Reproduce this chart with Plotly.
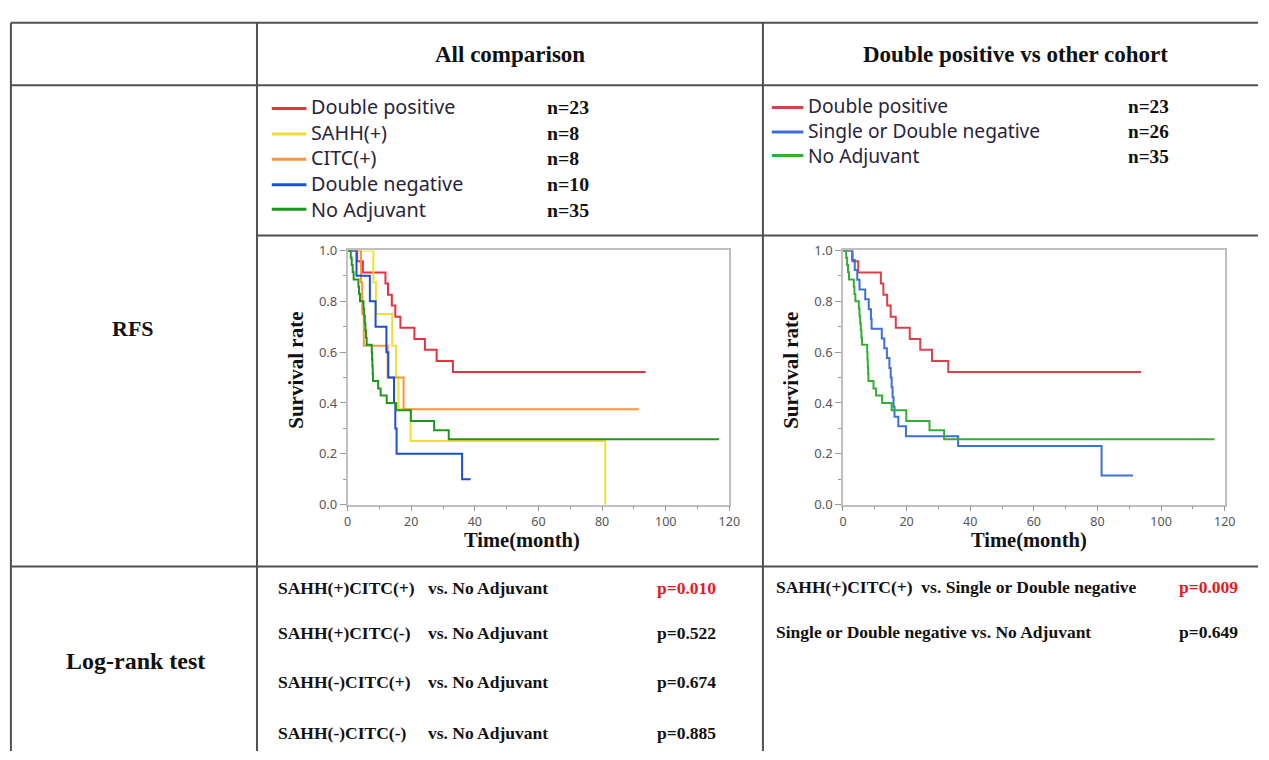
import plotly.graph_objects as go

W, H = 1269, 760

# ---------------- data ----------------
red_t = [0, 3.0, 4.8, 11.9, 12.7, 13.9, 15.0, 16.6, 21.0, 24.3, 28.0, 33.1, 93.7]
red_s = [1, 0.957, 0.913, 0.870, 0.826, 0.783, 0.739, 0.696, 0.652, 0.609, 0.565, 0.522, 0.522]

yel_t = [0, 8.1, 8.9, 14.0, 15.2, 16.0, 19.8, 81.0]
yel_s = [1, 0.875, 0.75, 0.625, 0.5, 0.375, 0.25, 0.0]

ora_t = [0, 4.2, 4.6, 5.1, 12.6, 17.6, 91.5]
ora_s = [1, 0.875, 0.75, 0.625, 0.5, 0.375, 0.375]

dneg_t = [0, 2.8, 7.0, 8.8, 12.2, 12.8, 14.6, 15.0, 15.4, 36.0, 38.7]
dneg_s = [1, 0.9, 0.8, 0.7, 0.6, 0.5, 0.4, 0.3, 0.2, 0.1, 0.1]

noadj_t = [0, 1.0, 1.3, 1.6, 1.9, 3.4, 3.6, 3.9, 5.0, 5.2, 5.4, 5.6, 5.8, 6.0,
           7.6, 7.7, 7.8, 7.9, 8.0, 9.6, 10.4, 12.3, 15.3, 19.9, 27.2, 31.8, 116.8]
noadj_s = [1, 0.971, 0.943, 0.914, 0.886, 0.857, 0.829, 0.800, 0.771, 0.743, 0.714, 0.686,
           0.657, 0.629, 0.600, 0.571, 0.543, 0.514, 0.486, 0.457, 0.429, 0.400, 0.371,
           0.329, 0.293, 0.257, 0.257]

sneg_t = [0, 2.9, 3.7, 4.5, 5.2, 7.0, 8.1, 8.8, 9.0, 12.2, 13.0, 13.8, 14.6, 15.0,
          15.3, 15.6, 15.9, 16.2, 17.4, 19.8, 36.2, 81.3, 91.2]
sneg_s = [1, 0.962, 0.923, 0.885, 0.846, 0.808, 0.769, 0.731, 0.692, 0.654, 0.615, 0.577,
          0.538, 0.500, 0.462, 0.423, 0.385, 0.346, 0.308, 0.269, 0.231, 0.115, 0.115]

left_names = ["Double positive", "SAHH(+)", "CITC(+)", "Double negative", "No Adjuvant"]
left_n = ["n=23", "n=8", "n=8", "n=10", "n=35"]
left_colors = ["#e5323f", "#f0e030", "#f7963a", "#1d4fd1", "#1f971f"]

right_names = ["Double positive", "Single or Double negative", "No Adjuvant"]
right_n = ["n=23", "n=26", "n=35"]
right_colors = ["#d8404a", "#3c6fdc", "#36ad36"]

left_tests = ["SAHH(+)CITC(+)", "SAHH(+)CITC(-)", "SAHH(-)CITC(+)", "SAHH(-)CITC(-)"]
left_p = ["p=0.010", "p=0.522", "p=0.674", "p=0.885"]
right_tests = ["SAHH(+)CITC(+)  vs. Single or Double negative",
               "Single or Double negative vs. No Adjuvant"]
right_p = ["p=0.009", "p=0.649"]

x_ticks = [0, 20, 40, 60, 80, 100, 120]
y_ticks = [0.0, 0.2, 0.4, 0.6, 0.8, 1.0]


def px(x):
    return x / W


def py(y):
    return 1 - y / H


SERIF = "Liberation Serif"
SANS = "Noto Sans"

fig = go.Figure()

left_series = [(red_t, red_s), (yel_t, yel_s), (ora_t, ora_s), (dneg_t, dneg_s), (noadj_t, noadj_s)]
for (t, s), name, c in zip(left_series, left_names, left_colors):
    fig.add_trace(go.Scatter(x=t, y=s, mode="lines", line=dict(color=c, width=2, shape="hv"),
                             name=name, xaxis="x", yaxis="y", showlegend=False))

right_series = [(red_t, red_s), (sneg_t, sneg_s), (noadj_t, noadj_s)]
for (t, s), name, c in zip(right_series, right_names, right_colors):
    fig.add_trace(go.Scatter(x=t, y=s, mode="lines", line=dict(color=c, width=2, shape="hv"),
                             name=name, xaxis="x2", yaxis="y2", showlegend=False))

ydom = [py(507.7), py(247.3)]


def xax(dom, anchor):
    return dict(domain=dom, range=[0, 120], tickvals=x_ticks, ticks="outside", ticklen=5,
                tickcolor="#9a9a9a", showline=True, linecolor="#c0c0c0", linewidth=1.5,
                mirror=True, showgrid=False, zeroline=False, anchor=anchor,
                tickfont=dict(family=SANS, size=12.5, color="#555"),
                minor=dict(ticks="outside", ticklen=3, dtick=10, tickcolor="#9a9a9a"))


def yax(anchor):
    return dict(domain=ydom, range=[0, 1], tickvals=y_ticks, tickformat=".1f", ticks="outside",
                ticklen=6, tickcolor="#9a9a9a", showline=True, linecolor="#c0c0c0", linewidth=1.5,
                mirror=True, showgrid=False, zeroline=False, anchor=anchor,
                tickfont=dict(family=SANS, size=13, color="#555"),
                minor=dict(ticks="outside", ticklen=3, dtick=0.1, tickcolor="#9a9a9a"))


fig.update_layout(
    width=W, height=H, margin=dict(l=0, r=0, t=0, b=0),
    paper_bgcolor="white", plot_bgcolor="white", showlegend=False,
    xaxis=xax([px(347.7), px(734)], "y"),
    yaxis=yax("x"),
    xaxis2=xax([px(849), px(1235.3)], "y2"),
    yaxis2=yax("x2"),
)

# ---------------- table grid ----------------
LC = "#505050"
shapes = [
    dict(x0=px(7), x1=1, y0=py(14), y1=py(14)),
    dict(x0=px(7), x1=1, y0=py(78), y1=py(78)),
    dict(x0=px(256), x1=1, y0=py(232), y1=py(232)),
    dict(x0=px(7), x1=1, y0=py(571), y1=py(571)),
    dict(x0=px(7), x1=px(7), y0=py(14), y1=0),
    dict(x0=px(256), x1=px(256), y0=py(14), y1=0),
    dict(x0=px(768), x1=px(768), y0=py(14), y1=0),
]
for s in shapes:
    fig.add_shape(type="line", xref="paper", yref="paper", line=dict(color=LC, width=2), **s)

ann = []


def text(x, y, t, size, family=SERIF, color="#111", xanchor="center", bold=True, angle=0,
         yanchor="middle"):
    ann.append(dict(x=px(x), y=py(y), xref="paper", yref="paper", text=(f"<b>{t}</b>" if bold else t),
                    showarrow=False, xanchor=xanchor, yanchor=yanchor, textangle=angle, align="left",
                    font=dict(family=family, size=size, color=color)))


# headers
text(512, 47, "All comparison", 23)
text(1024, 47, "Double positive vs other cohort", 23)
text(131, 327, "RFS", 22)
text(133, 668, "Log-rank test", 24)

# legends (left): key lines as shapes, names and counts as multi-line text blocks
left_rows = [101, 127, 153, 179, 204]
for yy, c in zip(left_rows, left_colors):
    fig.add_shape(type="line", xref="paper", yref="paper", x0=px(271), x1=px(306),
                  y0=py(yy + 1), y1=py(yy + 1), line=dict(color=c, width=3))
text(309, (left_rows[0] + left_rows[-1]) / 2, "<br>".join(left_names), 19.8, family=SANS,
     color="#2a2438", xanchor="left", bold=False)
text(547, (left_rows[0] + left_rows[-1]) / 2 + 1, "<br>".join(f"<b>{n}</b>" for n in left_n), 19.8,
     xanchor="left", bold=False)

right_rows = [100, 125, 149]
for yy, c in zip(right_rows, right_colors):
    fig.add_shape(type="line", xref="paper", yref="paper", x0=px(777), x1=px(809),
                  y0=py(yy + 1), y1=py(yy + 1), line=dict(color=c, width=3))
text(812, (right_rows[0] + right_rows[-1]) / 2, "<br>".join(right_names), 19.2, family=SANS,
     color="#2a2438", xanchor="left", bold=False)
text(1135, (right_rows[0] + right_rows[-1]) / 2 + 1, "<br>".join(f"<b>{n}</b>" for n in right_n),
     19.2, xanchor="left", bold=False)

# axis titles
for cx, cy in [(524, 544), (1037, 544)]:
    text(cx, cy, "Time(month)", 20.5)
for cx in [296, 797]:
    text(cx, 370, "Survival rate", 21, angle=-90)

# log-rank rows
left_y = [593, 639, 689, 742]
for yy, lab, p in zip(left_y, left_tests, left_p):
    text(275, yy, lab, 17.5, xanchor="left")
    text(427, yy, "vs. No Adjuvant", 17.5, xanchor="left")
    text(723, yy, p, 17.5, xanchor="right", color="#e8191e" if p == "p=0.010" else "#111")

right_y = [592, 638]
for yy, lab, p in zip(right_y, right_tests, right_p):
    text(779, yy, lab, 17.5, xanchor="left")
    text(1251, yy, p, 17.5, xanchor="right", color="#e8191e" if p == "p=0.009" else "#111")

fig.update_layout(annotations=ann)
post = ("document.documentElement.style.margin='0px';"
        "document.documentElement.style.overflow='hidden';"
        "document.body.style.margin='0px';document.body.style.overflow='hidden';"
        "var d=document.getElementById('{plot_id}');"
        "d.style.position='fixed';d.style.left='0px';d.style.top='0px';")
fig.write_html("out.html", config={"displayModeBar": False}, post_script=post)
